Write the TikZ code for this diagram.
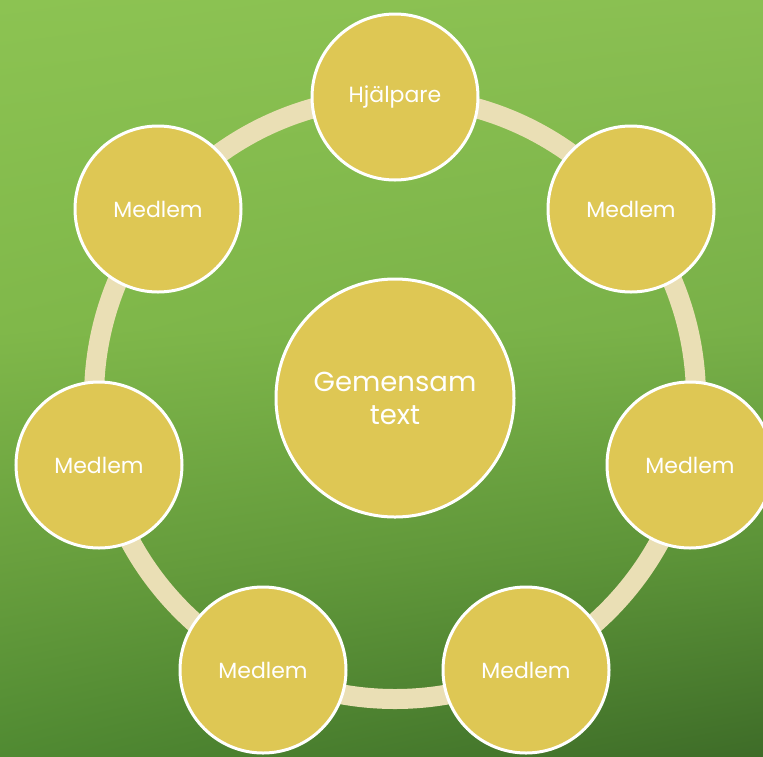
\documentclass[tikz,border=0pt]{standalone}
\usepackage{fontspec}
\usetikzlibrary{shadings}
\setmainfont{Poppins}
\definecolor{aL}{RGB}{140,195,82}
\definecolor{aR}{RGB}{138,191,82}
\definecolor{bL}{RGB}{128,184,74}
\definecolor{bR}{RGB}{120,176,72}
\definecolor{cL}{RGB}{105,160,62}
\definecolor{cR}{RGB}{90,145,55}
\definecolor{dL}{RGB}{80,138,50}
\definecolor{dR}{RGB}{62,108,40}
\definecolor{ringc}{RGB}{234,223,181}
\definecolor{discc}{RGB}{222,199,84}
\begin{document}
\begin{tikzpicture}[x=1pt,y=-1pt,
  disc/.style={circle,fill=discc,draw=white,line width=3pt,minimum size=166pt,inner sep=0pt,text=white,font=\fontsize{22}{26}\selectfont,align=center},
  bigdisc/.style={disc,minimum size=238pt,font=\fontsize{27.5}{33}\selectfont}]
\shade[upper left=aL,upper right=aR,lower left=bL,lower right=bR] (0,0) rectangle (763,330.5);
\shade[upper left=bL,upper right=bR,lower left=cL,lower right=cR] (0,330) rectangle (763,560.5);
\shade[upper left=cL,upper right=cR,lower left=dL,lower right=dR] (0,560) rectangle (763,756);
\useasboundingbox (0,0) rectangle (763,756);
\coordinate (c) at (395,398);
\draw[ringc,line width=20pt] (c) circle[radius=301];
\node[bigdisc] (g) at (c) {Gemensam\\text};
\node[disc] (h) at (395,97) {Hjälpare};
\node[disc] (m1) at (631,209) {Medlem};
\node[disc] (m2) at (690,465) {Medlem};
\node[disc] (m3) at (526,670) {Medlem};
\node[disc] (m4) at (263,670) {Medlem};
\node[disc] (m5) at (99,465) {Medlem};
\node[disc] (m6) at (158,209) {Medlem};
\end{tikzpicture}
\end{document}
